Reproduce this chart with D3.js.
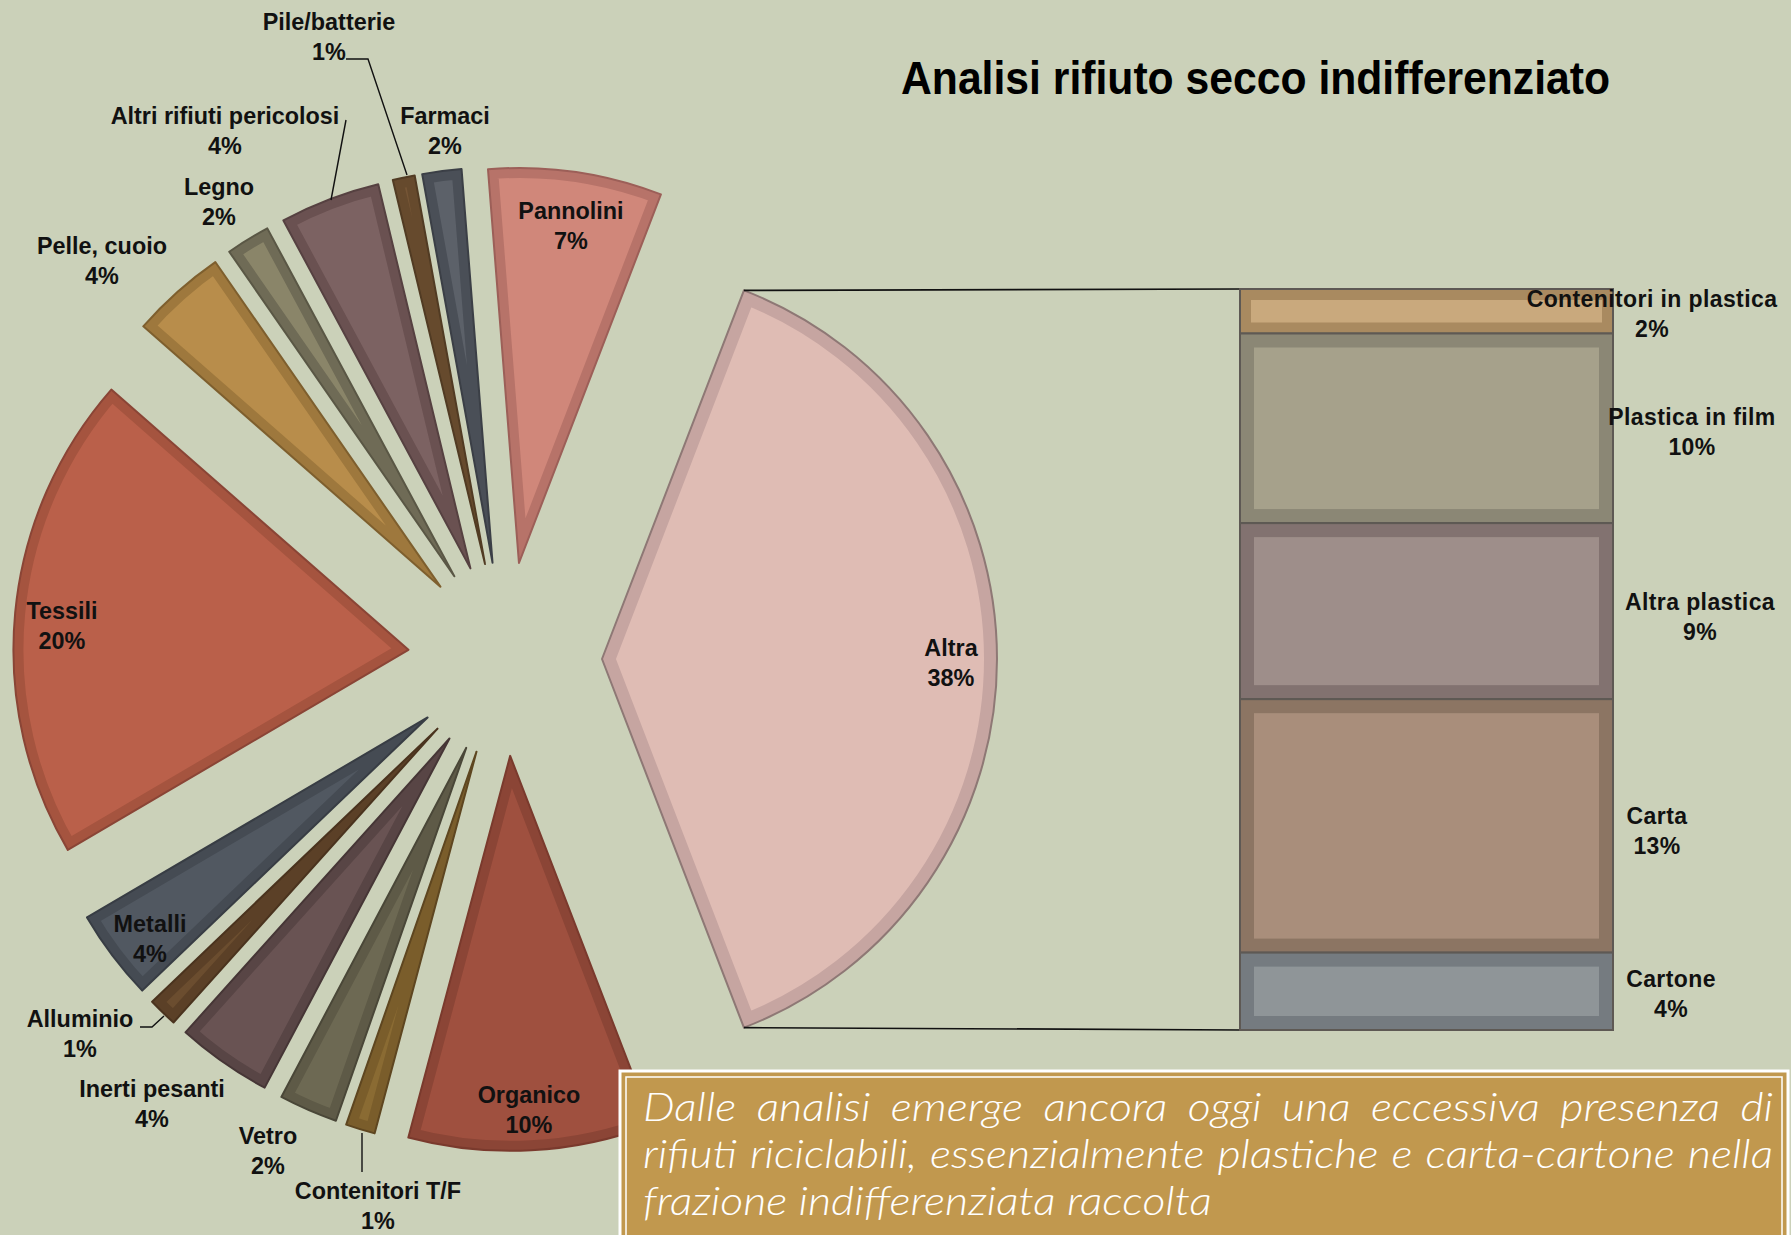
<!DOCTYPE html>
<html><head><meta charset="utf-8">
<script src="https://cdn.jsdelivr.net/npm/d3@7"></script>
<style>html,body{margin:0;padding:0;background:#CBD1B9;} svg{display:block}</style>
</head><body>
<svg id="chart" width="1791" height="1235"></svg>
<script>
// ---------- DATA ----------
const pieCategories = ["Altra","Organico","Contenitori T/F","Vetro","Inerti pesanti","Alluminio","Metalli","Tessili","Pelle, cuoio","Legno","Altri rifiuti pericolosi","Pile/batterie","Farmaci","Pannolini"];
const pieValues = [38.3,10.0,1.2,2.4,3.9,1.2,3.7,19.9,3.9,1.8,4.1,0.9,1.6,7.1];
const barCategories = ["Contenitori in plastica","Plastica in film","Altra plastica","Carta","Cartone"];
const barValues = [2.3,9.8,9.1,13.1,4.0];
const titleText = "Analisi rifiuto secco indifferenziato";
const captionLines = [
  "Dalle analisi emerge ancora oggi una eccessiva presenza di",
  "rifiuti riciclabili, essenzialmente plastiche e carta-cartone nella",
  "frazione indifferenziata raccolta"
];

// ---------- STYLES ----------
const pieFill = ["#DFBCB4","#9F503F","#8A6B33","#6D6953","#695353","#6B4D2F","#515861","#BA604A","#B88D4B","#8A8569","#7C6262","#765636","#5C6169","#D0877A"];
const pieBand = ["#C6A5A1","#8B4536","#7A5D2B","#5E5A47","#584545","#5B4027","#454B53","#A5543F","#9E783D","#6F6B56","#6A5151","#664A2D","#4A4F57","#B77369"];
const pieLine = ["#8E7875","#7A3A2D","#5E4620","#4A4738","#463636","#4A331E","#383D44","#8A4536","#7E5F2E","#5A5745","#564141","#513B23","#3B3F46","#9C5F58"];
const barFill = ["#C9A97D","#A6A18B","#9E8E8A","#A98E7B","#8F9598"];
const barBand = ["#A98A60","#8B8775","#827270","#8C7563","#757B80"];

// ---------- LAYOUT ----------
const W = 1791, H = 1235;
const cx = 505, cy = 659, R = 395, EXPL = 97;
const barX0 = 1240, barX1 = 1613, barY0 = 289, barY1 = 1030;
const labelFont = "'Liberation Sans', Arial, sans-serif";
// label anchors (centre x, baseline of first line)
const pieLabelPos = {
  "Altra":[951,656], "Organico":[529,1103], "Contenitori T/F":[378,1199], "Vetro":[268,1144],
  "Inerti pesanti":[152,1097], "Alluminio":[80,1027], "Metalli":[150,932], "Tessili":[62,619],
  "Pelle, cuoio":[102,254], "Legno":[219,195], "Altri rifiuti pericolosi":[225,124],
  "Pile/batterie":[329,30], "Farmaci":[445,124], "Pannolini":[571,219]
};
const barLabelPos = [[1652,307],[1692,425],[1700,610],[1657,824],[1671,987]];
const leaders = [
  [[346,59],[368,59],[407,175]],
  [[346,120],[331,200]],
  [[140,1027],[152,1027],[164,1016]],
  [[362,1133],[362,1172]]
];

const svg = d3.select("#chart");
svg.append("rect").attr("width",W).attr("height",H).attr("fill","#CBD1B9");

// ---------- PIE ----------
const pieData = pieCategories.map((c,i)=>({name:c, v:pieValues[i], i}));
const total = d3.sum(pieValues);
const start = Math.PI/2 - (pieValues[0]/total)*Math.PI;
const pie = d3.pie().sort(null).value(d=>d.v).startAngle(start).endAngle(start+2*Math.PI);
const arcs = pie(pieData);
const arcGen = d3.arc().innerRadius(0).outerRadius(R);
const defs = svg.append("defs");

const gPie = svg.append("g");
arcs.forEach((a,k)=>{
  const mid = (a.startAngle+a.endAngle)/2;
  const ox = cx + EXPL*Math.sin(mid), oy = cy - EXPL*Math.cos(mid);
  a.apex = [ox,oy];
  const d = arcGen(a);
  const id = "clip"+k;
  defs.append("clipPath").attr("id",id).append("path").attr("d",d);
  const g = gPie.append("g").attr("transform",`translate(${ox},${oy})`);
  const band = a.data.i===0 ? 13 : 10;
  g.append("path").attr("d",d).attr("fill",pieFill[a.data.i])
    .attr("stroke",pieBand[a.data.i]).attr("stroke-width",band*2)
    .attr("clip-path",`url(#${id})`);
  g.append("path").attr("d",d).attr("fill","none")
    .attr("stroke",pieLine[a.data.i]).attr("stroke-width",2).attr("stroke-linejoin","round");
});

// ---------- BAR ----------
const barTotal = d3.sum(barValues);
const y = d3.scaleLinear().domain([0,barTotal]).range([barY0,barY1]);
let cum = 0;
const barData = barValues.map((v,i)=>{const o={name:barCategories[i],v,y0:cum,y1:cum+v,i}; cum+=v; return o;});

// connector lines
const altra = arcs[0];
const topC = [altra.apex[0]+R*Math.sin(altra.startAngle), altra.apex[1]-R*Math.cos(altra.startAngle)];
const botC = [altra.apex[0]+R*Math.sin(altra.endAngle), altra.apex[1]-R*Math.cos(altra.endAngle)];
svg.append("line").attr("x1",topC[0]).attr("y1",topC[1]).attr("x2",barX0).attr("y2",y(0))
  .attr("stroke","#111").attr("stroke-width",1.6);
svg.append("line").attr("x1",botC[0]).attr("y1",botC[1]).attr("x2",barX0).attr("y2",y(barTotal))
  .attr("stroke","#111").attr("stroke-width",1.6);

const gBar = svg.append("g");
barData.forEach(d=>{
  const id="bclip"+d.i;
  const x=barX0, yy=y(d.y0), w=barX1-barX0, h=y(d.y1)-y(d.y0);
  defs.append("clipPath").attr("id",id).append("rect").attr("x",x).attr("y",yy).attr("width",w).attr("height",h);
  gBar.append("rect").attr("x",x).attr("y",yy).attr("width",w).attr("height",h)
    .attr("fill",barFill[d.i]).attr("stroke",barBand[d.i]).attr("stroke-width",d.i===0?22:28)
    .attr("clip-path",`url(#${id})`);
  gBar.append("rect").attr("x",x).attr("y",yy).attr("width",w).attr("height",h)
    .attr("fill","none").attr("stroke","#5E5954").attr("stroke-width",2);
});

// ---------- LABELS ----------
const gLab = svg.append("g").attr("font-family",labelFont).attr("font-weight","bold")
  .attr("fill","#111").attr("text-anchor","middle");
arcs.forEach(a=>{
  const p = pieLabelPos[a.data.name];
  const t = gLab.append("text").attr("x",p[0]).attr("y",p[1]).attr("font-size",23.4);
  t.append("tspan").attr("x",p[0]).text(a.data.name);
  t.append("tspan").attr("x",p[0]).attr("dy",30).text(Math.round(a.data.v/total*100)+"%");
});
barData.forEach(d=>{
  const p = barLabelPos[d.i];
  const t = gLab.append("text").attr("x",p[0]).attr("y",p[1]).attr("font-size",23).attr("letter-spacing",0.4);
  t.append("tspan").attr("x",p[0]).text(d.name);
  t.append("tspan").attr("x",p[0]).attr("dy",30).text(Math.round(d.v/total*100)+"%");
});
leaders.forEach(pts=>{
  svg.append("path").attr("d",d3.line()(pts)).attr("fill","none").attr("stroke","#111").attr("stroke-width",1.4);
});

// ---------- TITLE ----------
svg.append("text").attr("x",901).attr("y",94).attr("font-family",labelFont).attr("font-weight","bold")
  .attr("font-size",46).attr("fill","#000").attr("textLength",709).attr("lengthAdjust","spacingAndGlyphs")
  .text(titleText);

// ---------- CAPTION BOX ----------
svg.append("rect").attr("x",620).attr("y",1071).attr("width",1168).attr("height",180)
  .attr("fill","#C1984E").attr("stroke","#FFFFFF").attr("stroke-width",3);
svg.append("rect").attr("x",626).attr("y",1077).attr("width",1156).attr("height",170)
  .attr("fill","none").attr("stroke","#FFFFFF").attr("stroke-width",1.5);
const capX0 = 643, capX1 = 1773, capY = [1121,1168,1215], lastLineW = 569;
const capG = svg.append("g");
const capTexts = captionLines.map((line,i)=> capG.append("text").attr("x",0).attr("y",capY[i])
    .attr("font-family","Lato, 'Open Sans', sans-serif").attr("font-style","italic").attr("font-weight",300)
    .attr("font-size",39).attr("fill","#FFFFFF").text(line));
const natLast = capTexts[capTexts.length-1].node().getComputedTextLength();
const sx = lastLineW / natLast;
capG.attr("transform",`translate(${capX0},0) scale(${sx},1)`);
capTexts.forEach((t,i)=>{
  if(i===capTexts.length-1) return;
  const target = (capX1-capX0)/sx;
  const nat = t.node().getComputedTextLength();
  const gaps = captionLines[i].split(" ").length-1;
  if(nat < target){ t.attr("word-spacing",(target-nat)/gaps); }
  else { t.attr("textLength",target).attr("lengthAdjust","spacingAndGlyphs"); }
});
</script>
</body></html>
